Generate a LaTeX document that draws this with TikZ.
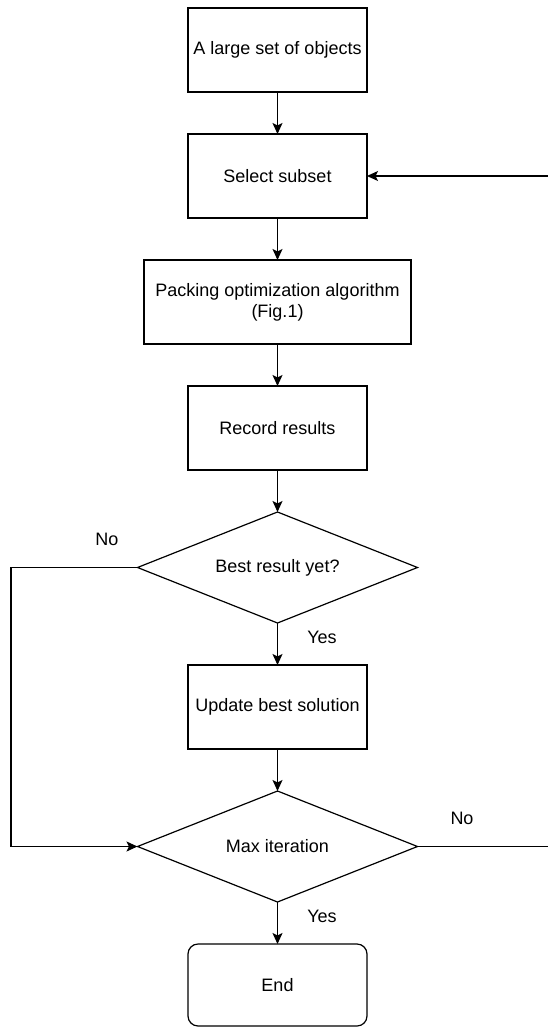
\documentclass[tikz,border=0pt]{standalone}
\usepackage{fontspec}
\setmainfont{Liberation Sans}
\usepackage{tikz}
\usetikzlibrary{arrows.meta, positioning, shapes.geometric}
\tikzstyle{arrow} = [line width=1.2pt,-{Stealth[length=11pt,width=10pt,inset=2.5pt]}]
\tikzstyle{box} = [rectangle, draw, line width=1.2pt, outer sep=0pt, minimum width=179pt, minimum height=84pt, align=center, font=\fontsize{18pt}{21pt}\selectfont]
\tikzstyle{decision} = [diamond, draw, line width=1.2pt, outer sep=0pt, minimum width=280pt, minimum height=111pt, aspect=2.5, inner sep=0pt, font=\fontsize{18pt}{21pt}\selectfont]
\tikzstyle{lbl} = [font=\fontsize{18pt}{21pt}\selectfont]

\begin{document}
\begin{tikzpicture}[node distance=42pt]
\useasboundingbox (0pt,0pt) rectangle (548pt,-1027pt);
\node [box] (objs) at (277.5pt,-50pt) {A large set of objects};
\node [box] (sel) [below=of objs] {Select subset};
\node [box, minimum width=267pt] (pack) [below=of sel] {Packing optimization algorithm\\(Fig.1)};
\node [box] (rec) [below=of pack] {Record results};
\node [decision] (best) [below=of rec] {Best result yet?};
\node [box] (upd) [below=of best] {Update best solution};
\node [decision] (max) [below=of upd] {Max iteration};
\node [box, rounded corners=10pt, minimum height=82pt] (end) [below=of max] {End};
\coordinate (lft) at (11pt,0pt);
\coordinate (rgt) at (548.8pt,0pt);
\node [lbl] (no1) at (107pt,-539pt) {No};
\node [lbl] (yes1) at (322pt,-637pt) {Yes};
\node [lbl] (no2) at (462pt,-818pt) {No};
\node [lbl] (yes2) at (322pt,-916pt) {Yes};
\draw [arrow] (objs) to (sel);
\draw [arrow] (sel) to (pack);
\draw [arrow] (pack) to (rec);
\draw [arrow] (rec) to (best);
\draw [arrow] (best) to (upd);
\draw [arrow] (upd) to (max);
\draw [arrow] (max) to (end);
\draw [arrow] (best.west) -- (best.west -| lft) -- (max.west -| lft) -- (max.west);
\draw [arrow] (max.east) -- (max.east -| rgt) -- (sel.east -| rgt) -- (sel.east);
\end{tikzpicture}
\end{document}
